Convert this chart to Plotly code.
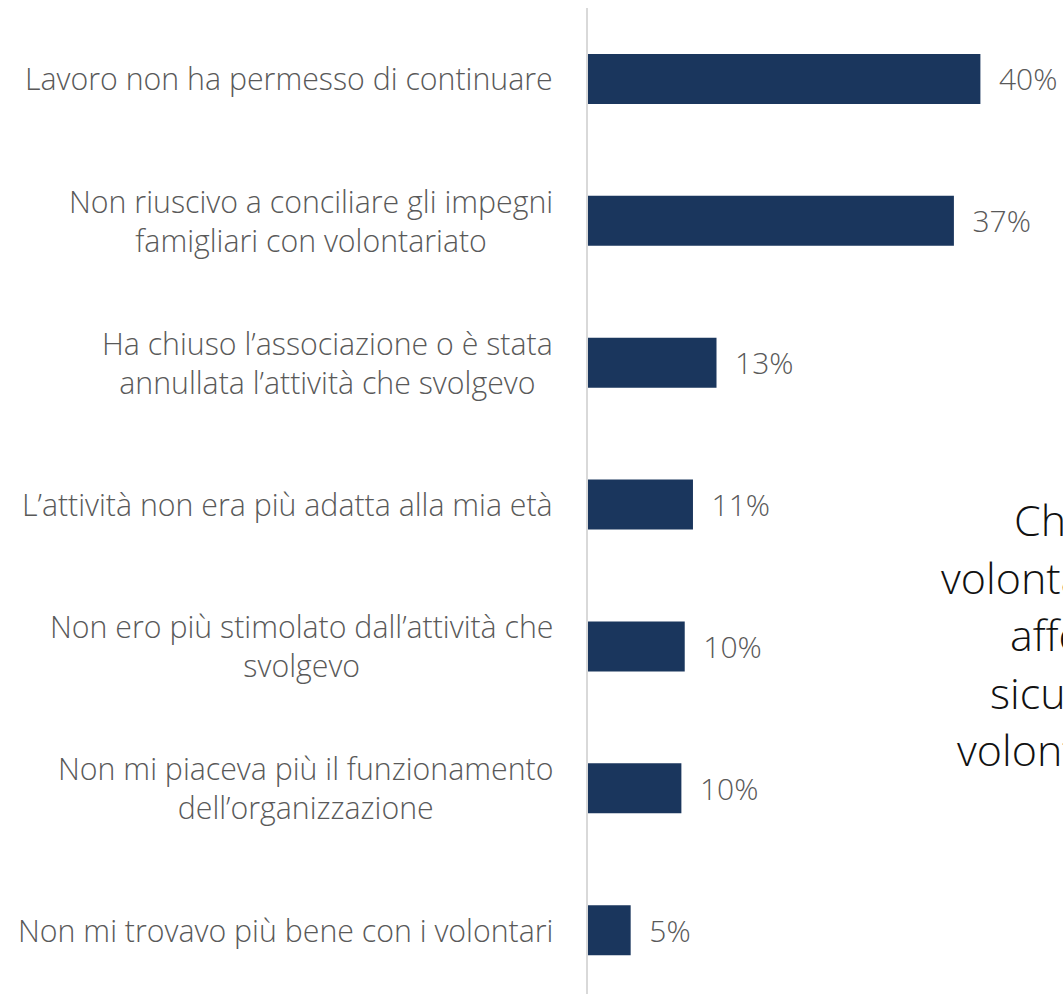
import plotly.graph_objects as go

categories = [
    "Lavoro non ha permesso di continuare",
    "Non riuscivo a conciliare gli impegni<br>famigliari con volontariato",
    "Ha chiuso l’associazione o è stata<br>annullata l’attività che svolgevo",
    "L’attività non era più adatta alla mia età",
    "Non ero più stimolato dall’attività che<br>svolgevo",
    "Non mi piaceva più il funzionamento<br>dell’organizzazione",
    "Non mi trovavo più bene con i volontari",
]
values = [40.0, 37.3, 13.1, 10.7, 9.86, 9.52, 4.35]
value_labels = ["40%", "37%", "13%", "11%", "10%", "10%", "5%"]

side_lines = ["Chi ha smesso", "volontariato lo ha", "afferma", "sicuramente", "volontariato"]

ids = list(range(len(categories)))

FONT = "Open Sans"
GREY = "#595959"
NAVY = "#1a365d"

fig = go.Figure()
fig.add_trace(go.Bar(
    x=values,
    y=ids,
    orientation="h",
    marker=dict(color=NAVY, line=dict(width=0)),
    text=["\u00a0\u00a0" + t for t in value_labels],
    textposition="outside",
    textfont=dict(family=FONT, size=30, color=GREY, weight=300),
    cliponaxis=False,
    width=0.352,
    hoverinfo="skip",
))

annotations = []
for i, c in enumerate(categories):
    annotations.append(dict(
        x=0, xref="paper", y=i, yref="y",
        text=c, showarrow=False, xanchor="right", yanchor="middle",
        align="center", xshift=-33,
        font=dict(family=FONT, size=30.3, color=GREY, weight=300),
    ))

side_x = [1012, 939, 1008, 988, 955]
side_y = [519, 577, 634, 692, 749]
for t, px, py in zip(side_lines, side_x, side_y):
    annotations.append(dict(
        x=(px - 588) / 475, xref="paper",
        y=1 - (py - 8) / 986, yref="paper",
        text=t, showarrow=False, xanchor="left", yanchor="middle",
        font=dict(family=FONT, size=43, color="#111111", weight=300),
    ))

fig.update_layout(
    width=1063, height=994,
    margin=dict(l=588, r=0, t=8, b=0),
    paper_bgcolor="white", plot_bgcolor="white",
    showlegend=False,
    xaxis=dict(range=[0, 48.42], visible=False, fixedrange=True),
    yaxis=dict(range=[6.45, -0.5], showticklabels=False, showgrid=False,
               zeroline=False, showline=True, linecolor="#d9d9d9", linewidth=2,
               ticks="", fixedrange=True),
    annotations=annotations,
)

fig.write_html("out.html", config={"displayModeBar": False})
